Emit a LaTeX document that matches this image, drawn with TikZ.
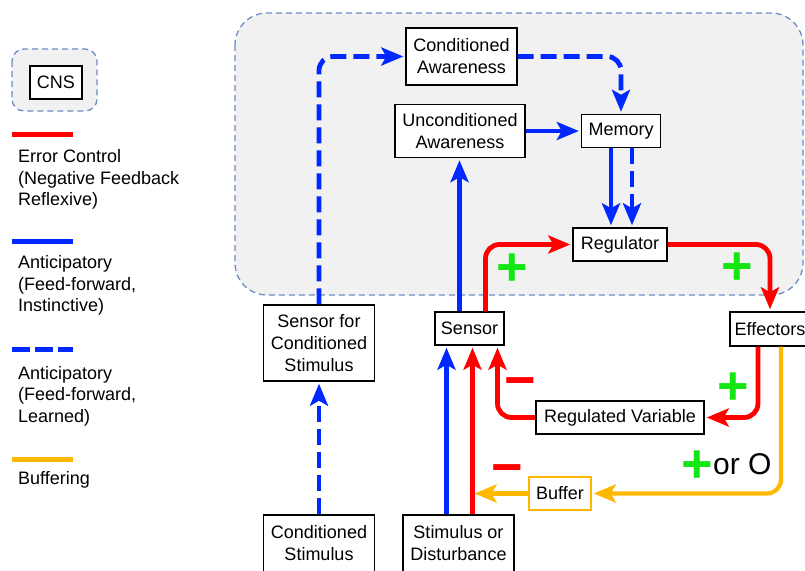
\documentclass[tikz,border=0pt]{standalone}
\usepackage{fontspec}
\setmainfont{Liberation Sans}
\usetikzlibrary{arrows.meta,calc}

\definecolor{cnsfill}{RGB}{241,241,241}
\definecolor{cnsline}{RGB}{108,140,196}
\definecolor{errred}{RGB}{255,0,0}
\definecolor{antblue}{RGB}{0,40,255}
\definecolor{bufyellow}{RGB}{255,184,0}
\definecolor{signgreen}{RGB}{20,230,20}

\begin{document}
\begin{tikzpicture}[x=1pt,y=-1pt,
		box/.style={draw=black,line width=1.4pt,fill=white,align=center,inner sep=0pt,font=\fontsize{18}{22}\selectfont},
		legendtext/.style={anchor=north west,align=left,inner sep=0pt,font=\fontsize{18}{21.5}\selectfont},
		tip/.style={-{Stealth[length=22pt,width=18pt,inset=5pt]},shorten >=2pt},
		redline/.style={tip,draw=errred,line width=4.8pt,rounded corners=14pt},
		blueline/.style={tip,draw=antblue,line width=4.8pt,rounded corners=14pt},
		dashblue/.style={blueline,dash pattern=on 16pt off 7pt},
		bufline/.style={tip,draw=bufyellow,line width=4.2pt,rounded corners=14pt},
		plussign/.style={text=signgreen,inner sep=0pt,font=\fontsize{54}{54}\bfseries},
		minussign/.style={text=errred,inner sep=0pt,font=\fontsize{54}{54}\bfseries},
		cnsarea/.style={draw=cnsline,fill=cnsfill,line width=1.3pt,dash pattern=on 6pt off 4pt}]
			\useasboundingbox (0,0) rectangle (805,570);
			
			\draw[cnsarea,rounded corners=32pt] (235,13) rectangle (803,295);
			
			\draw[cnsarea,rounded corners=12pt] (12,49) rectangle (97,111);
			\node[box,minimum width=52pt,minimum height=33pt] (cns) at (56,82.5) {CNS};
			\draw[errred,line width=5pt] (12,134) -- (73,134);
			\node[legendtext] (errtxt) at (18,149.5) {Error Control\\(Negative Feedback\\Reflexive)};
			\draw[antblue,line width=5pt] (12,241) -- (73,241);
			\node[legendtext] (insttxt) at (18,255.5) {Anticipatory\\(Feed-forward,\\Instinctive)};
			\draw[antblue,line width=5pt,dash pattern=on 18pt off 5pt] (12,349) -- (73,349);
			\node[legendtext] (learntxt) at (18,366) {Anticipatory\\(Feed-forward,\\Learned)};
			\draw[bufyellow,line width=5pt] (12,459) -- (73,459);
			\node[legendtext] (buftxt) at (18,471) {Buffering};
			
			\node[box,minimum width=111pt,minimum height=57pt] (condaware) at (461.5,56.5) {Conditioned\\Awareness};
			\node[box,minimum width=130pt,minimum height=53pt] (uncondaware) at (460,131) {Unconditioned\\Awareness};
			\node[box,minimum width=79pt,minimum height=33pt] (memory) at (621,131) {Memory};
			\node[box,minimum width=94pt,minimum height=33pt] (regulator) at (620,244.5) {Regulator};
			\node[box,minimum width=111pt,minimum height=76pt] (csensor) at (319,343) {Sensor for\\Conditioned\\Stimulus};
			\node[box,minimum width=69pt,minimum height=33pt] (sensor) at (469.5,328.5) {Sensor};
			\node[box,minimum width=80pt,minimum height=34pt] (effectors) at (770,329) {Effectors};
			\node[box,minimum width=168pt,minimum height=33pt] (regvar) at (620,417.5) {Regulated Variable};
			\node[box,draw=bufyellow,minimum width=62pt,minimum height=33pt] (buffer) at (560,493.5) {Buffer};
			\node[box,minimum width=111pt,minimum height=57pt] (cstim) at (319,543.5) {Conditioned\\Stimulus};
			\node[box,minimum width=111pt,minimum height=57pt] (stim) at (458.5,543.5) {Stimulus or\\Disturbance};
			
			\coordinate (stimblue) at ([xshift=-12pt]stim.north);
			\coordinate (stimred) at ([xshift=14pt]stim.north);
			
			\draw[dashblue] (cstim.north) -- (cstim.north |- csensor.south);
			\draw[dashblue] (csensor.north) |- (condaware.west);
			\draw[dashblue] (condaware.east) -| (memory.north);
			\draw[blueline] (uncondaware.east) -- (memory.west);
			\draw[blueline] ([xshift=-10pt]memory.south) -- ([xshift=-10pt]memory.south |- regulator.north);
			\draw[dashblue] ([xshift=11pt]memory.south) -- ([xshift=11pt]memory.south |- regulator.north);
			\draw[blueline] ([xshift=-10pt]sensor.north) -- ([xshift=-10pt]sensor.north |- uncondaware.south);
			\draw[redline] ([xshift=16pt]sensor.north) |- (regulator.west);
			\draw[redline] (regulator.east) -| (effectors.north);
			\draw[redline] ([xshift=-12pt]effectors.south) |- (regvar.east);
			\draw[redline] (regvar.west) -| ([xshift=28pt]sensor.south);
			\draw[blueline] (stimblue) -- (stimblue |- sensor.south);
			\draw[redline] (stimred) -- (stimred |- sensor.south);
			\draw[bufline] ([xshift=11pt]effectors.south) |- (buffer.east);
			\draw[bufline] (buffer.west) -- (buffer.west -| stimred);
			
			\node[plussign] (plusa) at (512,270) {+};
			\node[plussign] (plusb) at (737,269) {+};
			\node[plussign] (plusc) at (733,389) {+};
			\node[plussign] (plusd) at (697,467) {+};
			\node[minussign] (minusa) at (520,388) {−};
			\node[minussign] (minusb) at (507,475) {−};
			\node[anchor=west,inner sep=0pt,font=\fontsize{30}{30}\selectfont] (ortxt) at (713,464) {or O};
		\end{tikzpicture}
\end{document}
